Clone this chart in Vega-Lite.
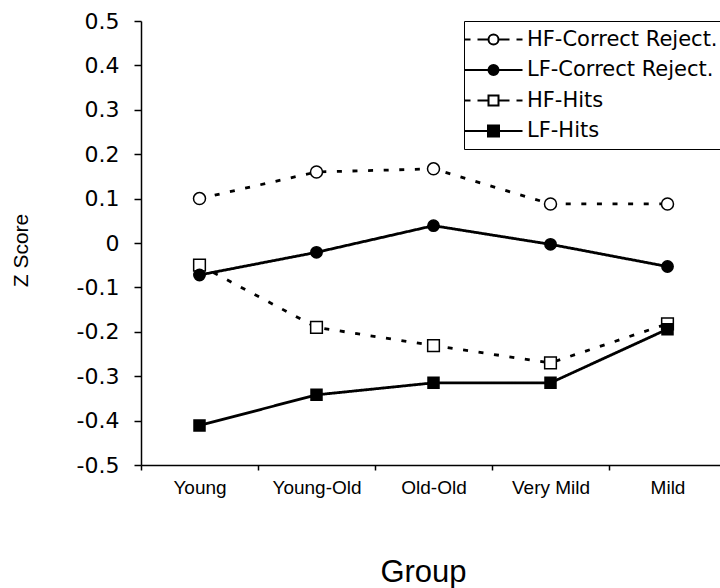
{
  "$schema": "https://vega.github.io/schema/vega-lite/v6.json",
  "width": 579,
  "height": 444,
  "autosize": {"type": "none"},
  "padding": {"left": 141, "top": 21, "right": 0, "bottom": 123},
  "background": "white",
  "config": {
    "view": {"stroke": null},
    "axis": {"grid": false},
    "legend": {
      "title": null,
      "orient": "none",
      "legendX": 323,
      "legendY": 0,
      "padding": 8,
      "strokeColor": "black",
      "fillColor": "white",
      "symbolSize": 100,
      "symbolOffset": 11,
      "labelOffset": 23,
      "rowPadding": 8.5,
      "labelFont": "DejaVu Sans",
      "labelFontSize": 21,
      "labelLimit": 400,
      "labelColor": "black",
      "symbolStrokeWidth": 2,
      "symbolOpacity": 1
    }
  },
  "data": {
    "values": [
      {"series": "HF-Correct Reject.", "group": "Young", "z": 0.10},
      {"series": "HF-Correct Reject.", "group": "Young-Old", "z": 0.16},
      {"series": "HF-Correct Reject.", "group": "Old-Old", "z": 0.167},
      {"series": "HF-Correct Reject.", "group": "Very Mild", "z": 0.088},
      {"series": "HF-Correct Reject.", "group": "Mild", "z": 0.088},
      {"series": "HF-Hits", "group": "Young", "z": -0.05},
      {"series": "HF-Hits", "group": "Young-Old", "z": -0.19},
      {"series": "HF-Hits", "group": "Old-Old", "z": -0.231},
      {"series": "HF-Hits", "group": "Very Mild", "z": -0.27},
      {"series": "HF-Hits", "group": "Mild", "z": -0.182},
      {"series": "LF-Correct Reject.", "group": "Young", "z": -0.072},
      {"series": "LF-Correct Reject.", "group": "Young-Old", "z": -0.021},
      {"series": "LF-Correct Reject.", "group": "Old-Old", "z": 0.039},
      {"series": "LF-Correct Reject.", "group": "Very Mild", "z": -0.003},
      {"series": "LF-Correct Reject.", "group": "Mild", "z": -0.053},
      {"series": "LF-Hits", "group": "Young", "z": -0.411},
      {"series": "LF-Hits", "group": "Young-Old", "z": -0.342},
      {"series": "LF-Hits", "group": "Old-Old", "z": -0.315},
      {"series": "LF-Hits", "group": "Very Mild", "z": -0.315},
      {"series": "LF-Hits", "group": "Mild", "z": -0.194}
    ]
  },
  "encoding": {
    "x": {
      "field": "group",
      "type": "nominal",
      "sort": ["Young", "Young-Old", "Old-Old", "Very Mild", "Mild"],
      "scale": {"type": "band", "range": [0, 585], "paddingInner": 0, "paddingOuter": 0},
      "axis": {
        "title": "Group",
        "titleFont": "Liberation Sans",
        "titleFontSize": 31,
        "titleFontWeight": "normal",
        "titleColor": "black",
        "titleX": 282,
        "titleY": 116,
        "titleBaseline": "alphabetic",
        "titleAlign": "center",
        "labelFont": "Liberation Sans",
        "labelFontSize": 19,
        "labelColor": "black",
        "labelAngle": 0,
        "labelPadding": 8,
        "tickBand": "extent",
        "tickSize": 5,
        "tickWidth": 1.5,
        "tickColor": "black",
        "domainColor": "black",
        "domainWidth": 1.5
      }
    },
    "y": {
      "field": "z",
      "type": "quantitative",
      "scale": {"domain": [-0.5, 0.5], "nice": false, "zero": false},
      "axis": {
        "values": [-0.5, -0.4, -0.3, -0.2, -0.1, 0, 0.1, 0.2, 0.3, 0.4, 0.5],
        "labelExpr": "datum.value == 0 ? '0' : (datum.value < 0 ? '-' : '') + format(abs(datum.value), '.1f')",
        "title": "Z Score",
        "titleFont": "Liberation Sans",
        "titleFontSize": 21,
        "titleFontWeight": "normal",
        "titleColor": "black",
        "titleX": -120,
        "titleY": 229,
        "titleBaseline": "middle",
        "titleAlign": "center",
        "labelFont": "DejaVu Sans",
        "labelFontSize": 22,
        "labelColor": "black",
        "labelPadding": 15,
        "tickSize": 7,
        "tickWidth": 1.5,
        "tickColor": "black",
        "domainColor": "black",
        "domainWidth": 1.5
      }
    }
  },
  "layer": [
    {
      "mark": {"type": "line", "strokeWidth": 2.8, "color": "black", "strokeCap": "butt"},
      "encoding": {
        "detail": {"field": "series", "type": "nominal"},
        "strokeDash": {
          "field": "series",
          "type": "nominal",
          "scale": {"range": [[5, 10.6], [5, 10.6], [1, 0], [1, 0]]},
          "legend": null
        }
      }
    },
    {
      "mark": {"type": "point", "filled": true, "stroke": "black", "strokeWidth": 1.5, "opacity": 1},
      "encoding": {
        "fill": {
          "field": "series",
          "type": "nominal",
          "scale": {"range": ["white", "white", "black", "black"]},
          "legend": null
        },
        "size": {
          "field": "series",
          "type": "nominal",
          "scale": {"range": [144, 121, 144, 169]},
          "legend": null
        },
        "shape": {
          "field": "series",
          "type": "nominal",
          "scale": {"range": ["circle", "square", "circle", "square"]},
          "legend": null
        }
      }
    },
    {
      "transform": [{"filter": "false"}],
      "mark": {"type": "point", "filled": true, "opacity": 1},
      "encoding": {
        "fill": {
          "field": "series",
          "type": "nominal",
          "scale": {
            "domain": ["HF-Correct Reject.", "LF-Correct Reject.", "HF-Hits", "LF-Hits"],
            "range": ["white", "black", "white", "black"]
          },
          "legend": {"orient": "none", "title": null}
        },
        "stroke": {
          "field": "series",
          "type": "nominal",
          "scale": {
            "domain": ["HF-Correct Reject.", "LF-Correct Reject.", "HF-Hits", "LF-Hits"],
            "range": ["black", "black", "black", "black"]
          },
          "legend": {"orient": "none", "title": null}
        },
        "shape": {
          "field": "series",
          "type": "nominal",
          "scale": {
            "domain": ["HF-Correct Reject.", "LF-Correct Reject.", "HF-Hits", "LF-Hits"],
            "range": [
              "M-5.8,0H-4.6M-3.2,0H-1M1,0H3.2M4.6,0H5.8M1,0A1,1,0,1,1,-1,0A1,1,0,1,1,1,0Z",
              "M-5.8,0H-1M1,0H5.8M1,0A1,1,0,1,1,-1,0A1,1,0,1,1,1,0Z",
              "M-5.8,0H-4.6M-3.2,0H-1M1,0H3.2M4.6,0H5.8M-1,-1H1V1H-1Z",
              "M-5.8,0H5.8M-1.1,-1.1H1.1V1.1H-1.1Z"
            ]
          },
          "legend": {"orient": "none", "title": null}
        }
      }
    }
  ],
  "resolve": {"scale": {"shape": "independent", "fill": "independent", "stroke": "independent"}}
}
